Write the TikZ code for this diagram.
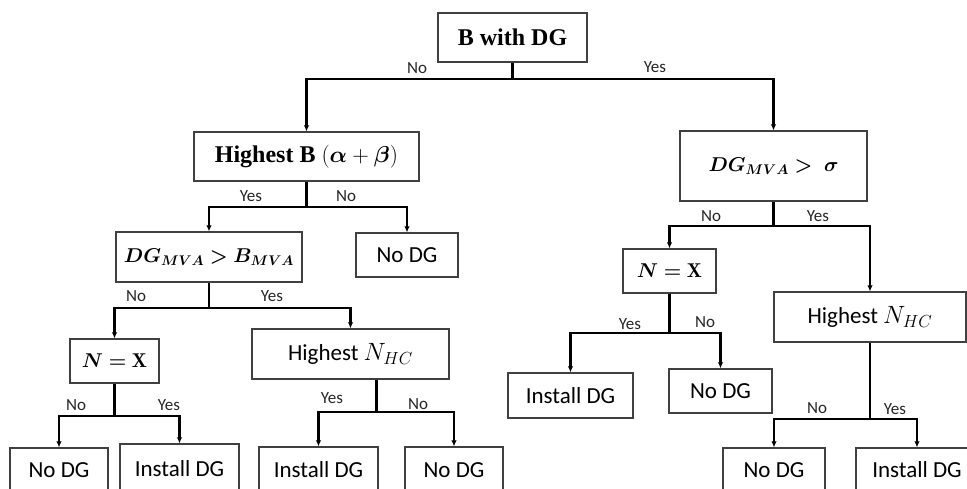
\RequirePackage{fix-cm}
\documentclass[tikz,border=0pt]{standalone}
\usepackage{amsmath,bm}
\usepackage{fontspec}
\newfontfamily\sansf{Carlito}
\newfontfamily\serb{Liberation Serif}
\usetikzlibrary{arrows.meta}
\newcommand{\nhc}{{\fontsize{25}{27}\selectfont$N_{HC}$}}
\begin{document}
\begin{tikzpicture}[x=1pt,y=-1pt,
  box/.style={draw=black!75, line width=1.3pt, inner sep=0pt, fill=white},
  sbox/.style={box, font=\sansf\fontsize{23}{27}\selectfont},
  mbox/.style={box, font=\fontsize{20}{24}\selectfont},
  rbox/.style={box, font=\serb\bfseries\fontsize{24}{28}\selectfont},
  ln/.style={line width=2.2pt, black},
  arr/.style={ln, -{Latex[length=6pt,width=5.5pt]}},
  lbl/.style={font=\sansf\fontsize{17}{19}\selectfont, inner sep=0pt, text=black!85}]
\useasboundingbox (0,0) rectangle (967,489);
\clip (0,0) rectangle (967,489);
\fill[white] (0,0) rectangle (967,489);

% nodes
\node[rbox, minimum width=149pt, minimum height=49pt] (b0) at (512.5,37.5) {B with DG};
\node[rbox, minimum width=225pt, minimum height=49pt] (b1) at (306.5,156.5) {Highest B {\fontsize{23}{27}\selectfont$(\bm{\alpha}+\bm{\beta})$}};
\node[mbox, minimum width=186pt, minimum height=50pt] (b2) at (209,257) {$\bm{DG_{MVA} > B_{MVA}}$};
\node[sbox, minimum width=102pt, minimum height=44pt] (b3) at (407,255) {No DG};
\node[mbox, minimum width=89pt, minimum height=44pt] (b4) at (114.5,361) {$\bm{N = \mathrm{X}}$};
\node[sbox, minimum width=197pt, minimum height=50pt] (b5) at (350.5,354) {Highest \nhc};
\node[sbox, minimum width=98pt, minimum height=44pt] (b6) at (59,470) {No DG};
\node[sbox, minimum width=119pt, minimum height=50pt] (b7) at (179.5,469) {Install DG};
\node[sbox, minimum width=119pt, minimum height=46pt] (b8) at (318.5,470) {Install DG};
\node[sbox, minimum width=98pt, minimum height=46pt] (b9) at (454,470) {No DG};
\node[mbox, minimum width=187pt, minimum height=70pt] (b10) at (773.5,166) {$\bm{DG_{MVA} >\ \sigma}$};
\node[mbox, minimum width=93pt, minimum height=44pt] (b11) at (669.5,271) {$\bm{N = \mathrm{X}}$};
\node[sbox, minimum width=192pt, minimum height=50pt] (b12) at (870,317) {Highest \nhc};
\node[sbox, minimum width=125pt, minimum height=45pt] (b13) at (570.5,395.5) {Install DG};
\node[sbox, minimum width=103pt, minimum height=44pt] (b14) at (720.5,391) {No DG};
\node[sbox, minimum width=102pt, minimum height=44pt] (b15) at (774,470) {No DG};
\node[sbox, minimum width=122pt, minimum height=44pt] (b16) at (917,470) {Install DG};

% junctions
\coordinate (j0) at (b0.south |- 0,79);
\coordinate (j1) at (b1.south |- 0,207);
\coordinate (j2) at (b2.south |- 0,308);
\coordinate (j3) at (b4.south |- 0,416);
\coordinate (s5) at ([xshift=26pt]b5.south);
\coordinate (j4) at (s5 |- 0,412);
\coordinate (j5) at (b10.south |- 0,226);
\coordinate (j6) at (b11.south |- 0,333);
\coordinate (j7) at (b12.south |- 0,419);

% connectors
\draw[ln] (b0.south) -- (j0);
\draw[arr] (j0) -| (b1.north);
\draw[arr] (j0) -| (b10.north);

\draw[ln] (b1.south) -- (j1);
\draw[arr] (j1) -| (b2.north);
\draw[arr] (j1) -| (b3.north);

\draw[ln] (b2.south) -- (j2);
\draw[arr] (j2) -| (b4.north);
\draw[arr] (j2) -| (b5.north);

\draw[ln] (b4.south) -- (j3);
\draw[arr] (j3) -| (b6.north);
\draw[arr] (j3) -| (b7.north);

\draw[ln] (s5) -- (j4);
\draw[arr] (j4) -| (b8.north);
\draw[arr] (j4) -| (b9.north);

\draw[ln] (b10.south) -- (j5);
\draw[arr] (j5) -| (b11.north);
\draw[arr] (j5) -| (b12.north);

\draw[ln] (b11.south) -- (j6);
\draw[arr] (j6) -| (b13.north);
\draw[arr] (j6) -| (b14.north);

\draw[ln] (b12.south) -- (j7);
\draw[arr] (j7) -| (b15.north);
\draw[arr] (j7) -| (b16.north);

% labels
\node[lbl] (l0a) at (417,68) {No};
\node[lbl] (l0b) at (655,67) {Yes};
\node[lbl] (l1a) at (251,196) {Yes};
\node[lbl] (l1b) at (346,196) {No};
\node[lbl] (l2a) at (136,296) {No};
\node[lbl] (l2b) at (272,296) {Yes};
\node[lbl] (l3a) at (76,405) {No};
\node[lbl] (l3b) at (169,405) {Yes};
\node[lbl] (l4a) at (332,398) {Yes};
\node[lbl] (l4b) at (418,404) {No};
\node[lbl] (l5a) at (711,216) {No};
\node[lbl] (l5b) at (818,216) {Yes};
\node[lbl] (l6a) at (630,324) {Yes};
\node[lbl] (l6b) at (705,322) {No};
\node[lbl] (l7a) at (817,408) {No};
\node[lbl] (l7b) at (895,409) {Yes};
\end{tikzpicture}
\end{document}
